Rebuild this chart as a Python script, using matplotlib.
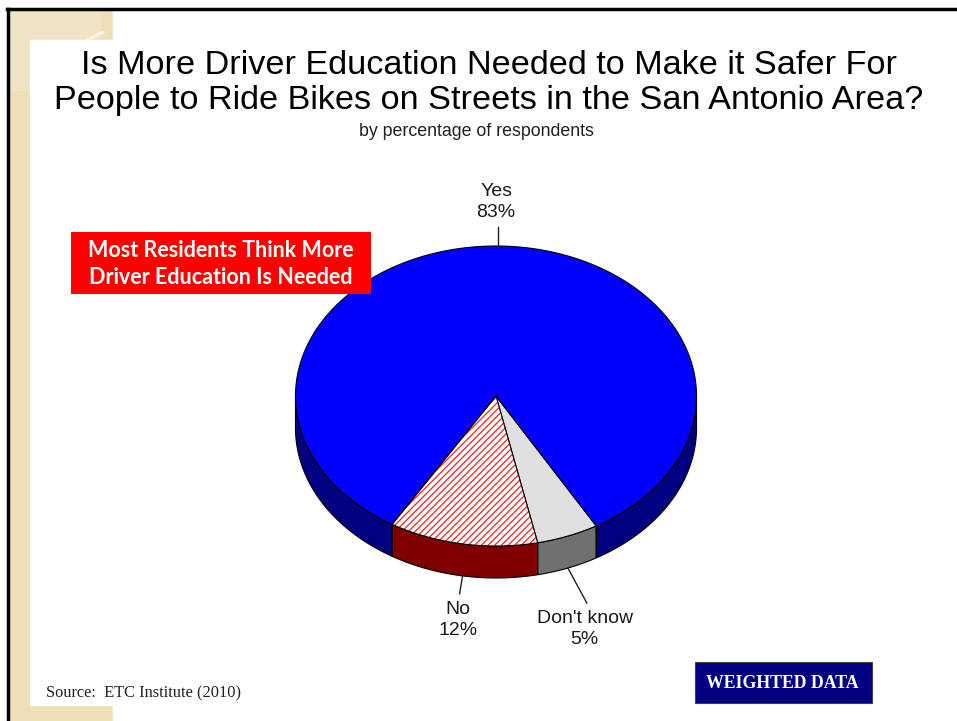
import numpy as np
import matplotlib.pyplot as plt
from matplotlib.patches import Polygon, Rectangle, Arc

plt.rcParams['hatch.linewidth'] = 0.9

# survey answers, drawn clockwise starting from the lower right
answers = ["Don't know", 'No', 'Yes']
percents = [5, 12, 83]
top_colors = ['#E0E0E0', '#FFFFFF', '#0000FF']
side_colors = ['#707070', '#800000', '#000080']
hatches = [None, '/////', None]

title = 'Is More Driver Education Needed to Make it Safer For\nPeople to Ride Bikes on Streets in the San Antonio Area?'
subtitle = 'by percentage of respondents'
callout = 'Most Residents Think More\nDriver Education Is Needed'

# pie geometry in pixels (y grows downwards)
cx, cy = 496, 396
rx, ry = 200.5, 150
depth = 32
start = 60.0


def rim(t0, t1, n=200, dy=0):
    t = np.radians(np.linspace(t0, t1, n))
    return np.column_stack([cx + rx * np.cos(t), cy + dy + ry * np.sin(t)])


fig = plt.figure(figsize=(9.57, 7.21), dpi=100)
ax = fig.add_axes([0, 0, 1, 1])
ax.set_xlim(0, 957)
ax.set_ylim(721, 0)
ax.axis('off')

# slide background: beige frame on the left with faint arcs, white panel on top
beige = '#EEDFB9'
ax.add_patch(Rectangle((10, 10), 103, 711, color=beige, zorder=0))
ax.add_patch(Rectangle((10, 10), 90, 80, color='#F1E4C4', zorder=0.1))
ax.add_patch(Arc((118, 190), 170, 320, theta1=95, theta2=265, color='#FBF3E0', lw=2.5, zorder=0.5))
ax.add_patch(Arc((112, 520), 90, 140, theta1=125, theta2=235, color='#D5C193', lw=1, zorder=0.5))
ax.add_patch(Rectangle((30, 40), 927, 665, color='white', zorder=0.8))
ax.add_patch(Rectangle((113, 10), 844, 711, color='white', zorder=0.8))
ax.plot([7, 957], [9, 9], color='black', lw=2.5, zorder=1)
ax.plot([8, 8], [9, 721], color='black', lw=2.5, zorder=1)

# slice angles from the percentages
bounds = start + 360 * np.concatenate([[0], np.cumsum(percents)]) / 100.0

# side walls: only the front half (0..180 deg) is visible
for i in range(len(percents)):
    t0, t1 = bounds[i], bounds[i + 1]
    for off in (0, 360):
        a0, a1 = max(t0, off), min(t1, off + 180)
        if a1 <= a0:
            continue
        upper = rim(a0, a1)
        lower = rim(a1, a0, dy=depth)
        ax.add_patch(Polygon(np.vstack([upper, lower]), closed=True, facecolor=side_colors[i],
                             edgecolor='black', lw=0.8, zorder=2))

# top faces
for i in range(len(percents)):
    pts = np.vstack([[cx, cy], rim(bounds[i], bounds[i + 1]), [cx, cy]])
    if hatches[i]:
        ax.add_patch(Polygon(pts, closed=True, facecolor='white', edgecolor='#FF2020',
                             hatch=hatches[i], lw=0, zorder=3))
        ax.add_patch(Polygon(pts, closed=True, facecolor='none', edgecolor='black', lw=0.8, zorder=3.1))
    else:
        ax.add_patch(Polygon(pts, closed=True, facecolor=top_colors[i], edgecolor='black',
                             lw=0.8, zorder=3))

# leader lines and labels
label_offsets = {"Don't know": (19, 35), 'No': (-3, 18), 'Yes': (0, -19)}
text_gaps = {"Don't know": 26, 'No': 26, 'Yes': -25}
for i, name in enumerate(answers):
    mid = (bounds[i] + bounds[i + 1]) / 2
    m = np.radians(mid)
    x0 = cx + rx * np.cos(m)
    y0 = cy + ry * np.sin(m) + (depth if np.sin(m) > 0 else 0)
    dx, dy = label_offsets[name]
    x1, y1 = x0 + dx, y0 + dy
    ax.plot([x0, x1], [y0, y1], color='#202020', lw=1, zorder=4)
    ax.text(x1 - 2, y1 + text_gaps[name], f'{name}\n{percents[i]}%', ha='center', va='center',
            fontsize=14, family='Liberation Sans', color='#1a1a1a', linespacing=1.3, zorder=5)

# titles
ax.text(489, 83, title, ha='center', va='center', fontsize=24.7, family='Liberation Sans',
        color='black', linespacing=1.2)
ax.text(476, 131, subtitle, ha='center', va='center', fontsize=12.8, family='Liberation Sans',
        color='#202020')

# red callout box
ax.add_patch(Rectangle((71, 232), 300, 62, facecolor='#FF0000', edgecolor='none', zorder=6))
ax.text(221, 264, callout, ha='center', va='center', fontsize=15.5, family='Lato', weight='bold',
        color='white', linespacing=1.3, zorder=7)

# footer
ax.text(46, 693, 'Source:  ETC Institute (2010)', ha='left', va='center', fontsize=11.8,
        family='Liberation Serif', color='#202020')
ax.add_patch(Rectangle((695, 662), 177, 41, facecolor='#000080', edgecolor='#404040', lw=0.8, zorder=6))
ax.text(782, 684, 'WEIGHTED DATA', ha='center', va='center', fontsize=12.8, family='Liberation Serif',
        weight='bold', color='white', zorder=7)

fig.savefig('out.png', dpi=100)
